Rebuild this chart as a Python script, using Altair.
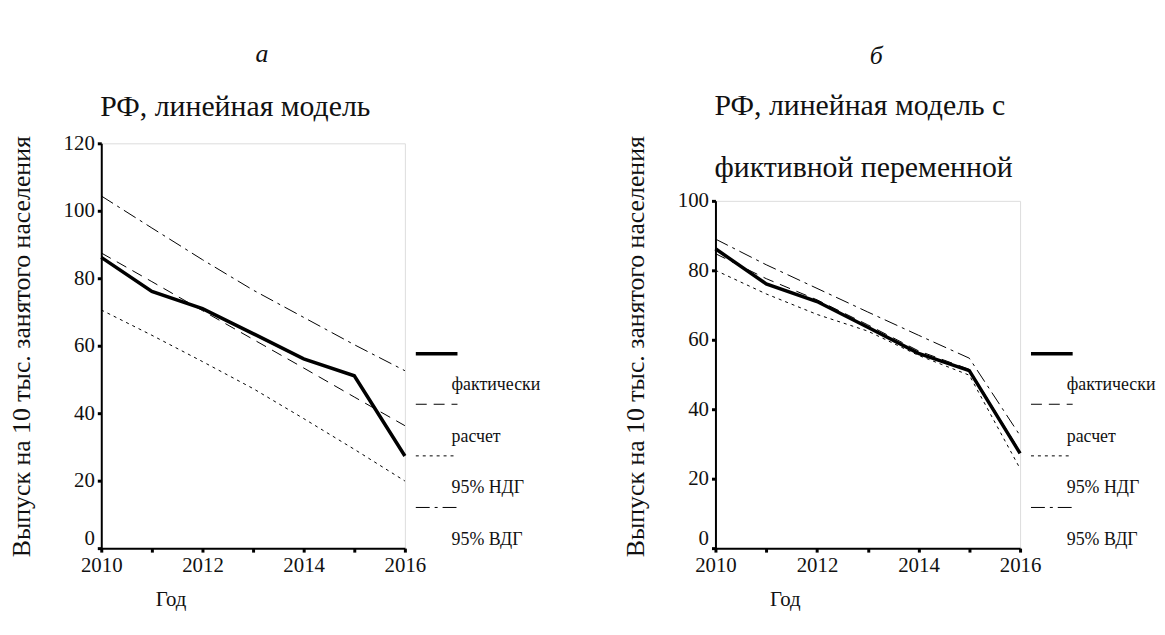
import altair as alt
import pandas as pd

years = [2010, 2011, 2012, 2013, 2014, 2015, 2016]
actual = [86.2, 76.1, 71.0, 63.6, 56.1, 51.1, 27.3]

a_calc = [87.5, 79.0, 70.4, 61.9, 53.4, 44.8, 36.3]
a_low = [70.6, 63.1, 55.3, 47.3, 38.4, 29.3, 19.9]
a_up = [104.4, 94.9, 85.5, 76.5, 68.4, 60.3, 52.6]

b_calc = [84.8, 77.6, 71.5, 64.3, 56.8, 51.5, 27.8]
b_low = [80.0, 73.2, 67.3, 62.5, 55.5, 49.8, 22.9]
b_up = [89.0, 81.6, 74.8, 68.0, 61.3, 54.7, 32.4]

legend_labels = ["фактически", "расчет", "95% НДГ", "95% ВДГ"]
y_title = "Выпуск на 10 тыс. занятого населения"
x_title = "Год"
title_a = ["РФ, линейная модель"]
title_b = ["РФ, линейная модель с", "фиктивной переменной"]
letters = ["а", "б"]

FONT = "'Liberation Serif', 'Times New Roman', 'DejaVu Serif', serif"
INK = "#111111"

series = ["actual", "calc", "low", "up"]
line_styles = {
    "actual": dict(strokeWidth=3.5),
    "calc": dict(strokeWidth=1, strokeDash=[11, 7]),
    "low": dict(strokeWidth=1, strokeDash=[3, 4]),
    "up": dict(strokeWidth=1, strokeDash=[14, 5, 3, 5]),
}


def one_text(txt, x, y, size, align="left", angle=0, italic=False):
    return alt.Chart(pd.DataFrame({"t": [txt]})).mark_text(
        text=txt, font=FONT, fontSize=size, color=INK, align=align,
        baseline="middle", angle=angle, fontStyle="italic" if italic else "normal",
    ).encode(x=alt.value(x), y=alt.value(y))


def axis_style(**kw):
    return alt.Axis(
        title=None, grid=False, labelFlush=False,
        domainColor="black", domainWidth=2, tickColor="black", tickWidth=3,
        tickSize=4, labelFont=FONT, labelFontSize=21, labelColor=INK,
        labelPadding=3, **kw,
    )


def panel(calc, low, up, ymax, W, H, titles, title_ys, letter, letter_y, ytitle_y):
    df = pd.DataFrame({"year": years, "actual": actual, "calc": calc, "low": low, "up": up})
    xenc = alt.X(
        "year:Q",
        scale=alt.Scale(domain=[2010, 2016], nice=False, zero=False),
        axis=axis_style(
            values=years,
            labelExpr="datum.value % 2 == 0 ? format(datum.value, 'd') : ''",
        ),
    )
    layers = []
    for s in ["up", "low", "calc", "actual"]:
        yenc = alt.Y(
            f"{s}:Q",
            scale=alt.Scale(domain=[0, ymax], nice=False),
            axis=axis_style(
                values=list(range(0, ymax + 1, 20)),
                labelBaseline={
                    "condition": {"test": "datum.value == 0", "value": "bottom"},
                    "value": "middle",
                },
            ),
        )
        layers.append(alt.Chart(df).mark_line(color="black", **line_styles[s]).encode(x=xenc, y=yenc))

    # legend (symbol above, label below, as in the reference)
    sym_ys = [H - 196, H - 145, H - 93, H - 41]
    lab_ys = [H - 164, H - 112, H - 61, H - 8]
    one = pd.DataFrame({"v": [0]})
    for s, lab, sy, ly in zip(series, legend_labels, sym_ys, lab_ys):
        layers.append(
            alt.Chart(one).mark_rule(color="black", **line_styles[s]).encode(
                x=alt.value(W + 11), x2=alt.value(W + 53), y=alt.value(sy)
            )
        )
        layers.append(one_text(lab, W + 47, ly, 18))

    for t, ty in zip(titles, title_ys):
        layers.append(one_text(t, -1, ty, 30))
    layers.append(one_text(letter, 162, letter_y, 26, align="center", italic=True))
    layers.append(one_text(y_title, -80, ytitle_y, 26, align="center", angle=270))
    layers.append(one_text(x_title, 55, H + 52, 21))

    return alt.layer(*layers).properties(width=W, height=H)


panel_a = panel(a_calc, a_low, a_up, 120, 306, 408, title_a, [-37], letters[0], -90, 205)
panel_b = panel(b_calc, b_low, b_up, 100, 307, 350, title_b, [-96, -33], letters[1], -146, 147)

spacer = alt.Chart(pd.DataFrame({"v": [0]})).mark_point(opacity=0).encode(
    x=alt.value(0), y=alt.value(0)
).properties(width=307, height=58, view=alt.ViewBackground(stroke="transparent"))

right = alt.vconcat(spacer, panel_b, spacing=0, bounds="flush")

chart = alt.hconcat(panel_a, right, spacing=313, bounds="flush").properties(
    padding={"left": 0, "top": 30, "right": 0, "bottom": 0}
).configure_view(stroke="black", strokeWidth=1).configure(background="white")

chart.save("out.html", embed_options={"renderer": "svg", "actions": False})
